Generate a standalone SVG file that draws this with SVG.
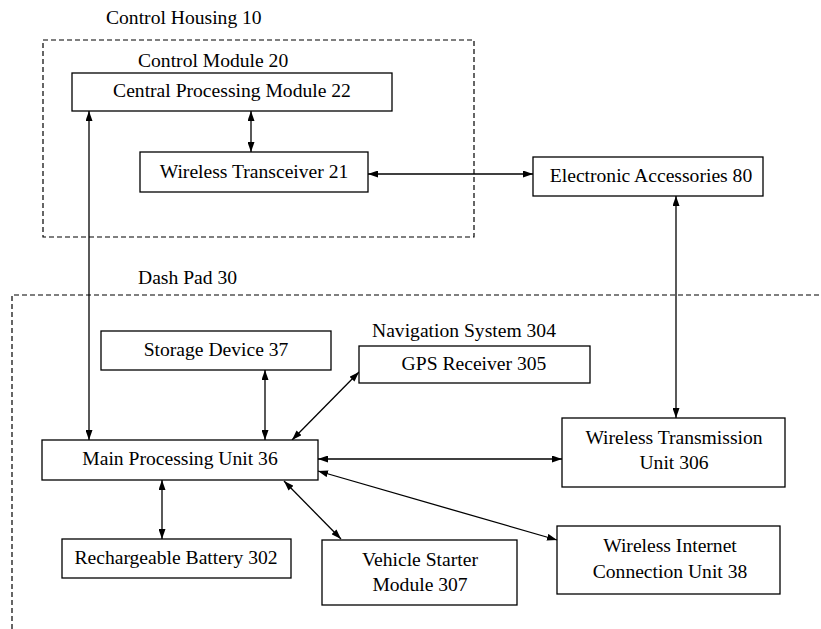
<svg xmlns="http://www.w3.org/2000/svg" width="821" height="629" viewBox="0 0 821 629">
<defs>
<marker id="ah" viewBox="0 0 10 7" refX="10" refY="3.5" markerWidth="10" markerHeight="7" markerUnits="userSpaceOnUse" orient="auto-start-reverse">
<path d="M0,0 L10,3.5 L0,7 z" fill="#000"/>
</marker>
<style>
text{font-family:"Liberation Serif","Times New Roman",serif;font-size:19.6px;fill:#000}
.c{text-anchor:middle}
.box{fill:#fff;stroke:#000;stroke-width:1.3}
.dash{fill:none;stroke:#000;stroke-width:1.2;stroke-dasharray:5 3}
.con{stroke:#000;stroke-width:1.3;fill:none;marker-start:url(#ah);marker-end:url(#ah)}
</style>
</defs>
<rect width="821" height="629" fill="#fff"/>
<g id="control-housing">
<rect class="dash" x="43" y="40" width="431" height="197"/>
<text x="106" y="24">Control Housing 10</text>
<text x="138" y="67">Control Module 20</text>
</g>
<g id="dash-pad">
<path class="dash" d="M12,629 V295 H821"/>
<text x="138" y="284">Dash Pad 30</text>
</g>
<g id="connectors">
<line class="con" x1="251" y1="111" x2="251" y2="152"/>
<line class="con" x1="368" y1="174" x2="533" y2="174"/>
<line class="con" x1="676" y1="196" x2="676" y2="418"/>
<line class="con" x1="89" y1="111" x2="89" y2="440"/>
<line class="con" x1="265" y1="370" x2="265" y2="440"/>
<line class="con" x1="359" y1="372" x2="292" y2="440"/>
<line class="con" x1="162" y1="480" x2="162" y2="539"/>
<line class="con" x1="284" y1="481" x2="341" y2="539"/>
<line class="con" x1="318" y1="459" x2="562" y2="459"/>
<line class="con" x1="318" y1="471" x2="557" y2="540"/>
</g>
<g id="cpm22">
<rect class="box" x="72" y="73" width="320" height="38"/>
<text class="c" x="232" y="97">Central Processing Module 22</text>
</g>
<g id="wt21">
<rect class="box" x="140" y="152" width="228" height="40"/>
<text class="c" x="254" y="178">Wireless Transceiver 21</text>
</g>
<g id="ea80">
<rect class="box" x="533" y="157" width="230" height="39"/>
<text class="c" x="651" y="182">Electronic Accessories 80</text>
</g>
<g id="sd37">
<rect class="box" x="101" y="331" width="230" height="39"/>
<text class="c" x="216" y="356">Storage Device 37</text>
</g>
<g id="gps305">
<rect class="box" x="359" y="346" width="231" height="37"/>
<text x="372" y="337">Navigation System 304</text>
<text class="c" x="474" y="370">GPS Receiver 305</text>
</g>
<g id="mpu36">
<rect class="box" x="42" y="440" width="276" height="40"/>
<text class="c" x="180" y="465">Main Processing Unit 36</text>
</g>
<g id="wtu306">
<rect class="box" x="562" y="418" width="223" height="69"/>
<text class="c" x="674" y="444">Wireless Transmission</text>
<text class="c" x="674" y="469">Unit 306</text>
</g>
<g id="rb302">
<rect class="box" x="62" y="539" width="229" height="39"/>
<text class="c" x="176" y="564">Rechargeable Battery 302</text>
</g>
<g id="vsm307">
<rect class="box" x="322" y="540" width="195" height="65"/>
<text class="c" x="420" y="566">Vehicle Starter</text>
<text class="c" x="420" y="591">Module 307</text>
</g>
<g id="wicu38">
<rect class="box" x="557" y="526" width="223" height="68"/>
<text class="c" x="670" y="552">Wireless Internet</text>
<text class="c" x="670" y="578">Connection Unit 38</text>
</g>
</svg>
